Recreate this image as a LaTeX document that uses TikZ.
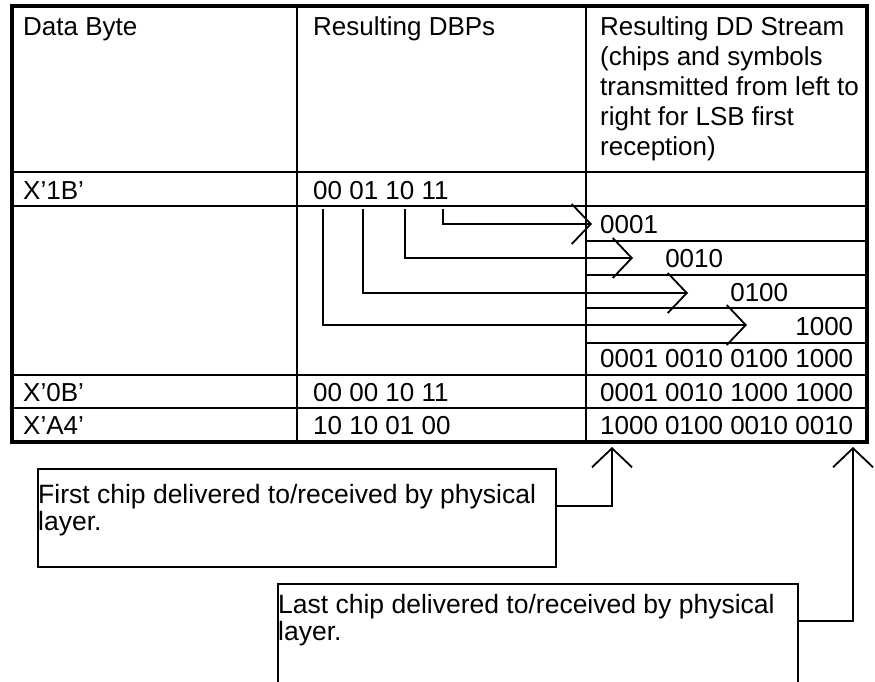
\documentclass[tikz,border=0pt]{standalone}
\usepackage{fontspec}
\setmainfont{Liberation Sans}
\usetikzlibrary{arrows.meta}
\begin{document}
\begin{tikzpicture}[x=1pt,y=-1pt,
  txt/.style={font=\fontsize{26}{30}\selectfont, inner sep=0pt, anchor=base west},
  ctxt/.style={font=\fontsize{26.5}{30}\selectfont, inner sep=0pt, anchor=base west},
  outerline/.style={line width=4pt},
  gridline/.style={line width=2.3pt},
  conn/.style={line width=1.8pt, -{Straight Barb[length=19pt,width=40pt,line width=1.8pt]}},
  callout/.style={draw, line width=1.6pt, fill=white, inner sep=0pt, anchor=north west},
  ]
\useasboundingbox (0,0) rectangle (875,681);

% ---- table grid ----
\draw[gridline] (297,6) -- (297,442);
\draw[gridline] (586,6) -- (586,442);
\draw[gridline] (11.5,172) -- (867,172);
\draw[gridline] (11.5,206) -- (867,206);
\draw[gridline] (586,241) -- (867,241);
\draw[gridline] (586,275) -- (867,275);
\draw[gridline] (586,308) -- (867,308);
\draw[gridline] (586,343) -- (867,343);
\draw[gridline] (11.5,375) -- (867,375);
\draw[gridline] (11.5,408) -- (867,408);
\draw[outerline] (11.5,6) rectangle (867,442);

% ---- header ----
\node[txt] (h1) at (23,35) {Data Byte};
\node[txt] (h2) at (313,35) {Resulting DBPs};
\node[txt] (h3a) at (600,35) {Resulting DD Stream};
\node[txt] (h3b) at (600,65) {(chips and symbols};
\node[txt] (h3c) at (600,95) {transmitted from left to};
\node[txt] (h3d) at (600,125) {right for LSB first};
\node[txt] (h3e) at (600,155) {reception)};

% ---- rows ----
\node[txt] (b1) at (23,199) {X’1B’};
\node[txt] (d1) at (313,199) {00 01 10 11};
\node[txt] (g1) at (600,233) {0001};
\node[txt] (g2) at (665.05,267) {0010};
\node[txt] (g3) at (730.1,301.5) {0100};
\node[txt] (g4) at (795.15,335) {1000};
\node[txt] (s1) at (600,367) {0001 0010 0100 1000};
\node[txt] (b2) at (23,401) {X’0B’};
\node[txt] (d2) at (313,401) {00 00 10 11};
\node[txt] (s2) at (600,401) {0001 0010 1000 1000};
\node[txt] (b3) at (23,434) {X’A4’};
\node[txt] (d3) at (313,434) {10 10 01 00};
\node[txt] (s3) at (600,434) {1000 0100 0010 0010};

% ---- DBP to stream connectors ----
\coordinate (p00) at (323,209);
\coordinate (p01) at (363,209);
\coordinate (p10) at (405,209);
\coordinate (p11) at (443,209);
\coordinate (t1) at (592,224);
\coordinate (t2) at (633,258);
\coordinate (t3) at (688,293);
\coordinate (t4) at (747,325);
\draw[conn] (p11) |- (t1);
\draw[conn] (p10) |- (t2);
\draw[conn] (p01) |- (t3);
\draw[conn] (p00) |- (t4);

% ---- callouts ----
\node[callout, minimum width=518pt, minimum height=98pt] (firstbox) at (37,468) {};
\node[ctxt] (f1) at (38,503) {First chip delivered to/received by physical};
\node[ctxt] (f2) at (38,530.5) {layer.};
\begin{scope}
\clip (0,0) rectangle (875,681);
\node[callout, minimum width=520pt, minimum height=130pt] (lastbox) at (277,583) {};
\end{scope}
\node[ctxt] (l1) at (278,613) {Last chip delivered to/received by physical};
\node[ctxt] (l2) at (278,640.5) {layer.};

\coordinate (ya) at (0,506);
\coordinate (yb) at (0,621);
\coordinate (up1) at (612,447);
\coordinate (up2) at (853,447);
\draw[conn] (firstbox.east |- ya) -| (up1);
\draw[conn] (lastbox.east |- yb) -| (up2);
\end{tikzpicture}
\end{document}
